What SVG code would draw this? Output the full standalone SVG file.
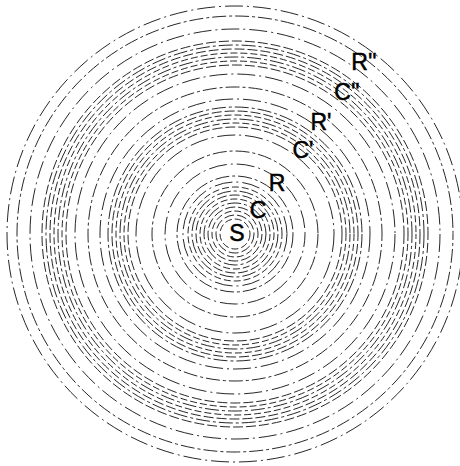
<svg xmlns="http://www.w3.org/2000/svg" width="460" height="466" viewBox="0 0 460 466">
<style>
.c{fill:none;stroke:#000;stroke-width:0.85}
.a{stroke-dasharray:14 3 3 3}
.b{stroke-dasharray:10 3}
.d{stroke-dasharray:18 4 2 4}
.e{stroke-dasharray:7 3}
.t{font-family:"Liberation Sans",Arial,sans-serif;font-size:23px;fill:#000;stroke:#000;stroke-width:0.5;text-anchor:middle}
</style>
<rect width="460" height="466" fill="#fff"/>
<g id="circles" transform="translate(235 234)">
<circle class="c e" r="15"/>
<circle class="c b" r="19"/>
<circle class="c e" r="23" stroke-dashoffset="3"/>
<circle class="c b" r="27"/>
<circle class="c a" r="31"/>
<circle class="c e" r="35"/>
<circle class="c b" r="39" stroke-dashoffset="4"/>
<circle class="c a" r="43"/>
<circle class="c e" r="47" stroke-dashoffset="2"/>
<circle class="c d" r="52"/>
<circle class="c a" r="58"/>
<circle class="c d" r="70" stroke-dashoffset="5"/>
<circle class="c a" r="83"/>
<circle class="c d" r="99"/>
<circle class="c b" r="107"/>
<circle class="c e" r="111"/>
<circle class="c a" r="115" stroke-dashoffset="6"/>
<circle class="c e" r="119"/>
<circle class="c b" r="123" stroke-dashoffset="3"/>
<circle class="c a" r="127"/>
<circle class="c d" r="135"/>
<circle class="c a" r="147" stroke-dashoffset="7"/>
<circle class="c d" r="160"/>
<circle class="c b" r="169"/>
<circle class="c e" r="173"/>
<circle class="c a" r="177" stroke-dashoffset="5"/>
<circle class="c e" r="181" stroke-dashoffset="2"/>
<circle class="c b" r="185"/>
<circle class="c a" r="189"/>
<circle class="c b" r="193" stroke-dashoffset="4"/>
<circle class="c d" r="205"/>
<circle class="c a" r="218" stroke-dashoffset="8"/>
<circle class="c d" r="228"/>
</g>
<g id="labels">
<text class="t" x="237" y="241">S</text>
<text class="t" x="258" y="218">C</text>
<text class="t" x="277" y="191">R</text>
<text class="t" x="303" y="158">C'</text>
<text class="t" x="321" y="130">R'</text>
<text class="t" x="347" y="100">C''</text>
<text class="t" x="364" y="70">R''</text>
</g>
</svg>
